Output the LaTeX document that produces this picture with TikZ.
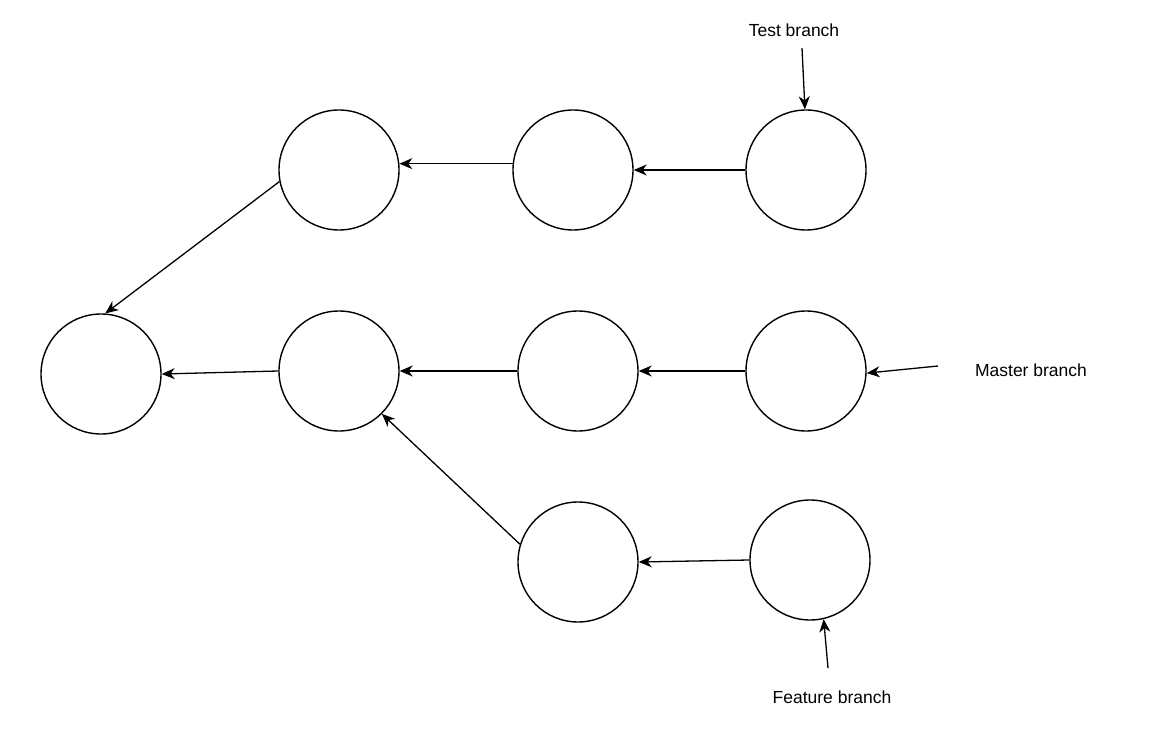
\documentclass[tikz,border=0pt]{standalone}
\usepackage{fontspec}
\setmainfont{Liberation Sans}
\usetikzlibrary{arrows.meta}
\begin{document}
\begin{tikzpicture}[x=1pt,y=-1pt,
  commit/.style={circle,draw=black,line width=1.4pt,minimum size=120pt,inner sep=0pt},
  conn/.style={line width=1.3pt,-{Stealth[length=13pt,width=11pt,inset=4pt]}},
  lbl/.style={font=\fontsize{17.5}{20}\selectfont,inner sep=0pt}]
\useasboundingbox (0,0) rectangle (1168,738);
\node[commit] (A) at (101,374) {};
\node[commit] (B) at (339,170) {};
\node[commit] (C) at (573,170) {};
\node[commit] (D) at (806,170) {};
\node[commit] (E) at (339,371) {};
\node[commit] (F) at (578,371) {};
\node[commit] (G) at (806,371) {};
\node[commit] (H) at (578,562) {};
\node[commit] (I) at (810,560) {};
\node[lbl] (tl) at (794,30) {Test branch};
\node[lbl] (ml) at (1031,370) {Master branch};
\node[lbl] (fl) at (832,697) {Feature branch};
\coordinate (ts) at (802,48);
\coordinate (ms) at (938,366);
\coordinate (fs) at (828,668);
\draw[conn] (B.191) -- (A.86);
\draw[conn] (C.174) -- (B.6);
\draw[conn] (D.180) -- (C.0);
\draw[conn] (E.180) -- (A.0);
\draw[conn] (F.180) -- (E.0);
\draw[conn] (G.180) -- (F.0);
\draw[conn] (H.163) -- (E.-45);
\draw[conn] (I.180) -- (H.0);
\draw[conn] (ts) -- (D.91);
\draw[conn] (ms) -- (G.-2);
\draw[conn] (fs) -- (I.-77);
\end{tikzpicture}
\end{document}
